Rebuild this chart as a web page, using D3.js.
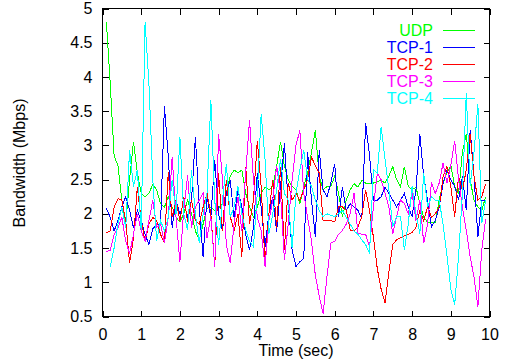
<!DOCTYPE html>
<html>
<head>
<meta charset="utf-8">
<script src="https://cdn.jsdelivr.net/npm/d3@7"></script>
<style>
  body { margin: 0; background: #fff; }
  text { font-family: "Liberation Sans", Arial, sans-serif; font-size: 16px; }
</style>
</head>
<body>
<svg id="chart"></svg>
<script>
// time axis (sec)
let times = [
  0.1, 0.2, 0.3, 0.4, 0.5, 0.6, 0.7, 0.8, 0.9, 1.0,
  1.1, 1.2, 1.3, 1.4, 1.5, 1.6, 1.7, 1.8, 1.9, 2.0,
  2.1, 2.2, 2.3, 2.4, 2.5, 2.6, 2.7, 2.8, 2.9, 3.0,
  3.1, 3.2, 3.3, 3.4, 3.5, 3.6, 3.7, 3.8, 3.9, 4.0,
  4.1, 4.2, 4.3, 4.4, 4.5, 4.6, 4.7, 4.8, 4.9, 5.0,
  5.1, 5.2, 5.3, 5.4, 5.5, 5.6, 5.7, 5.8, 5.9, 6.0,
  6.1, 6.2, 6.3, 6.4, 6.5, 6.6, 6.7, 6.8, 6.9, 7.0,
  7.1, 7.2, 7.3, 7.4, 7.5, 7.6, 7.7, 7.8, 7.9, 8.0,
  8.1, 8.2, 8.3, 8.4, 8.5, 8.6, 8.7, 8.8, 8.9, 9.0,
  9.1, 9.2, 9.3, 9.4, 9.5, 9.6, 9.7, 9.8, 9.9
];

// bandwidth, Mbps
let udp = [
  4.8, 3.9, 2.85, 2.7, 2.2, 1.85, 2.5, 3.05, 2.6, 2.3,
  2.25, 2.3, 2.43, 2.35, 2.15, 2.1, 2.25, 2.1, 1.95, 1.88,
  2.0, 2.2, 2.0, 1.75, 1.62, 1.85, 2.08, 2.1, 2.05, 2.08,
  2.15, 2.3, 2.55, 2.64, 2.6, 2.64, 2.3, 2.1, 1.95, 2.1,
  2.3, 2.39, 2.35, 2.4, 2.7, 3.05, 2.7, 2.5, 2.4, 2.35,
  2.15, 2.4, 2.6, 2.9, 3.22, 2.55, 2.35, 2.4, 2.4, 2.55,
  2.3, 1.96, 2.2, 2.35, 2.44, 2.39, 2.49, 2.45, 2.45, 2.45,
  2.47, 2.49, 2.45, 2.55, 2.69, 2.5, 2.39, 2.69, 2.4, 2.35,
  2.39, 2.15, 1.95, 1.88, 1.88, 1.88, 2.2, 2.45, 2.6, 2.71,
  2.4, 2.3, 2.9, 3.17, 2.5, 2.2, 2.1, 2.05, 2.25
];
let tcp1 = [
  2.08, 1.95, 1.75, 1.9, 2.1, 2.25, 2.05, 1.8, 2.05, 1.9,
  1.7, 1.55, 1.78, 1.85, 1.85, 3.58, 2.83, 1.8, 2.2, 2.0,
  2.15, 1.96, 2.2, 3.12, 2.1, 1.37, 2.25, 1.95, 2.78, 2.0,
  1.75, 2.3, 2.49, 1.95, 2.35, 2.1, 1.7, 1.47, 1.8, 2.59,
  2.1, 1.52, 2.0, 2.25, 1.74, 2.4, 3.03, 2.15, 1.47, 1.23,
  1.3, 1.35, 2.9, 2.2, 1.66, 2.93, 2.35, 2.25, 2.45, 2.73,
  1.95, 2.39, 2.05, 2.15, 2.1, 2.05, 1.93, 3.32, 2.85, 2.2,
  2.2, 2.25, 2.39, 2.3, 2.2, 2.1, 2.2, 2.3, 2.1, 1.96,
  2.35, 3.17, 2.55, 2.2, 1.81, 1.9, 2.1, 2.44, 2.64, 2.5,
  2.4, 2.2, 2.55, 2.05, 3.22, 2.55, 1.66, 2.2, 2.2
];
let tcp2 = [
  1.72, 1.75, 2.1, 2.22, 2.2, 1.9, 1.28, 1.64, 2.39, 1.9,
  1.6, 1.85, 1.95, 1.9, 1.7, 1.57, 2.61, 1.95, 2.2, 1.9,
  2.25, 1.88, 2.2, 1.9, 1.85, 2.1, 2.3, 2.0, 1.23, 2.59,
  1.75, 2.5, 1.96, 1.75, 2.0, 1.37, 2.69, 1.85, 2.2, 3.07,
  2.4, 1.27, 2.0, 2.5, 1.8, 2.69, 1.47, 2.45, 2.2, 2.3,
  2.2, 2.35, 2.5, 2.83, 2.7, 2.6, 1.9, 1.9, 1.9, 1.88,
  2.1, 2.1, 2.05, 1.76, 1.75, 1.81, 1.96, 2.35, 2.05, 1.66,
  1.2, 0.9, 0.7, 1.15, 1.55, 1.62, 1.65, 1.68, 1.7, 1.73,
  1.8, 2.05, 1.9, 2.1, 1.95, 2.0, 2.1, 2.54, 2.69, 2.4,
  1.96, 2.55, 2.35, 2.64, 3.17, 2.55, 2.2, 2.25, 2.44
];
let tcp3 = [
  1.45, 1.47, 1.7, 1.8, 1.95, 1.6, 1.42, 1.7, 2.0, 1.75,
  1.6, 1.9, 2.2, 1.8, 1.85, 1.57, 1.95, 2.83, 1.95, 1.3,
  2.05, 2.56, 1.8, 2.1, 2.2, 2.3, 1.65, 1.96, 1.23, 3.17,
  2.5, 1.55, 1.28, 1.85, 2.25, 1.75, 2.6, 3.37, 2.5, 1.95,
  1.75, 1.23, 1.9, 2.2, 2.7, 2.3, 1.33, 1.85, 2.5, 3.0,
  3.22, 2.3, 1.95, 1.6, 1.1, 0.8, 0.54, 1.08, 1.57, 1.6,
  1.7, 1.76, 1.85, 2.0, 2.3, 1.72, 1.7, 1.7, 1.52, 2.1,
  2.59, 2.5, 2.3, 2.1, 1.71, 1.96, 2.2, 2.15, 2.0, 2.3,
  1.9, 2.2, 1.57, 1.85, 2.46, 2.3, 2.45, 2.74, 2.45, 2.7,
  3.07, 2.5, 2.1, 1.76, 1.37, 1.08, 0.64, 1.47, 1.92
];
let tcp4 = [
  null, 1.23, 1.5, 1.85, 2.1, 1.8, 2.93, 2.4, 2.64, 1.76,
  4.8, 3.9, 2.5, 1.6, 1.9, 1.75, 1.95, 2.5, 2.0, 3.12,
  2.0, 1.76, 2.64, 2.0, 1.57, 2.0, 2.3, 3.66, 2.2, 1.55,
  2.2, 2.73, 1.95, 2.1, 2.4, 2.0, 1.76, 1.6, 1.52, 2.3,
  3.46, 2.8, 1.71, 2.0, 2.35, 2.8, 2.3, 2.2, 1.5, 2.3,
  2.64, 2.93, 2.5, 2.4, 2.2, 2.05, 1.96, 2.0, 1.98, 1.96,
  2.0, 2.05, 1.95, 1.85, 1.75, 1.7, 1.62, 1.55, 1.42, 2.64,
  2.6, 3.27, 2.8, 2.35, 1.81, 1.96, 1.96, 1.47, 1.85, 2.4,
  2.0, 1.71, 2.59, 2.1, 2.25, 2.2, 2.2, 1.85, 1.4, 0.9,
  0.67, 1.37, 2.3, 3.76, 2.4, 2.9, 3.6, 1.86, 2.2
];

let seriesNames = ["UDP", "TCP-1", "TCP-2", "TCP-3", "TCP-4"];
let seriesValues = [udp, tcp1, tcp2, tcp3, tcp4];
let colors = ["#00ff00", "#0000ff", "#ff0000", "#ff00ff", "#00ffff"];

let xTicks = [0, 1, 2, 3, 4, 5, 6, 7, 8, 9, 10];
let yTicks = [0.5, 1, 1.5, 2, 2.5, 3, 3.5, 4, 4.5, 5];

let width = 514;
let height = 360;
let plotLeft = 102.5, plotRight = 489.5, plotTop = 8.5, plotBottom = 316.5;

let svg = d3.select("#chart")
    .attr("width", width)
    .attr("height", height);

svg.append("rect")
    .attr("width", width)
    .attr("height", height)
    .attr("fill", "#fff");

let scaleX = d3.scaleLinear().domain([0, 10]).range([plotLeft, plotRight]);
let scaleY = d3.scaleLinear().domain([0.5, 5]).range([plotBottom, plotTop]);

// axes with inward ticks (gnuplot style, mirrored)
function styleAxis(g) {
    g.select(".domain").remove();
    g.selectAll(".tick line").attr("stroke", "#000").attr("shape-rendering", "crispEdges");
    g.selectAll(".tick text")
        .attr("fill", "#000")
        .style("font-family", '"Liberation Sans", Arial, sans-serif')
        .style("font-size", "16px");
}

svg.append("g")
    .attr("transform", `translate(0, ${plotBottom})`)
    .call(d3.axisBottom(scaleX).tickValues(xTicks).tickSizeInner(-6).tickSizeOuter(0)
        .tickPadding(12).tickFormat(d => d))
    .call(styleAxis);

svg.append("g")
    .attr("transform", `translate(0, ${plotTop})`)
    .call(d3.axisTop(scaleX).tickValues(xTicks).tickSizeInner(-6).tickSizeOuter(0).tickFormat(""))
    .call(styleAxis);

svg.append("g")
    .attr("transform", `translate(${plotLeft}, 0)`)
    .call(d3.axisLeft(scaleY).tickValues(yTicks).tickSizeInner(-6).tickSizeOuter(0)
        .tickPadding(10).tickFormat(d => d))
    .call(styleAxis);

svg.append("g")
    .attr("transform", `translate(${plotRight}, 0)`)
    .call(d3.axisRight(scaleY).tickValues(yTicks).tickSizeInner(-6).tickSizeOuter(0).tickFormat(""))
    .call(styleAxis);

// series lines
let line = d3.line()
    .defined(d => d[1] !== null)
    .x(d => scaleX(d[0]))
    .y(d => scaleY(d[1]));

let lines = svg.append("g");
seriesValues.forEach(function(values, i) {
    let pts = times.map((t, k) => [t, values[k]]);
    lines.append("path")
        .datum(pts)
        .attr("d", line)
        .attr("fill", "none")
        .attr("stroke", colors[i])
        .attr("stroke-width", 1)
        .attr("shape-rendering", "crispEdges");
});

// frame
svg.append("rect")
    .attr("x", plotLeft)
    .attr("y", plotTop)
    .attr("width", plotRight - plotLeft)
    .attr("height", plotBottom - plotTop)
    .attr("fill", "none")
    .attr("stroke", "#000")
    .attr("shape-rendering", "crispEdges");

// legend
let legend = svg.append("g");
seriesNames.forEach(function(name, i) {
    let yBase = 36 + i * 17;
    legend.append("text")
        .attr("x", 433)
        .attr("y", yBase)
        .attr("text-anchor", "end")
        .attr("fill", colors[i])
        .text(name);
    legend.append("line")
        .attr("x1", 443)
        .attr("x2", 475)
        .attr("y1", yBase - 5.5)
        .attr("y2", yBase - 5.5)
        .attr("stroke", colors[i])
        .attr("shape-rendering", "crispEdges");
});

// axis titles
svg.append("text")
    .attr("x", 296)
    .attr("y", 356)
    .attr("text-anchor", "middle")
    .text("Time (sec)");

svg.append("text")
    .attr("transform", "translate(24.5, 163) rotate(-90)")
    .attr("text-anchor", "middle")
    .text("Bandwidth (Mbps)");
</script>
</body>
</html>
